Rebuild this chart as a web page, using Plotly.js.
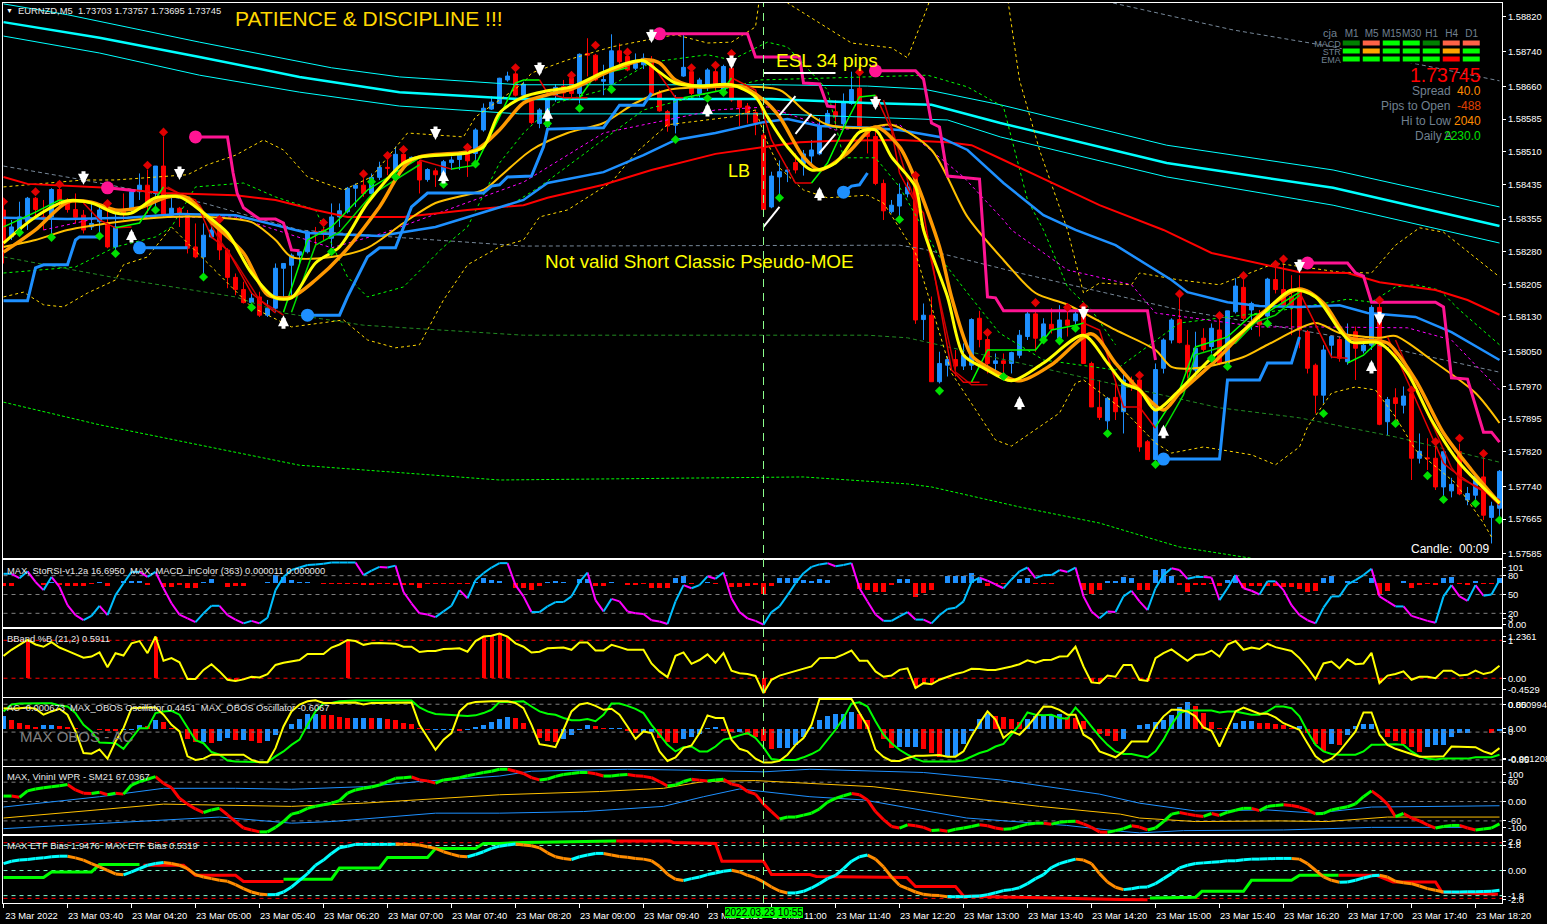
<!DOCTYPE html>
<html><head><meta charset="utf-8">
<script src="https://cdn.plot.ly/plotly-3.0.1.min.js"></script>
<style>html,body{margin:0;padding:0;background:#000;overflow:hidden}#g{width:1547px;height:924px}</style>
</head><body><div id="g"></div>
<script>
// ---------- DATA: price values are points above 1.57000 ----------
const opens=[1376,1314,1330,1349,1403,1360,1360,1423,1399,1377,1364,1337,1349,1347,1291,1376,1376,1418,1433,1414,1477,1364,1380,1368,1291,1268,1314,1337,1284,1221,1193,1163,1176,1134,1150,1242,1249,1272,1280,1326,1330,1311,1360,1372,1426,1433,1414,1451,1474,1464,1504,1492,1487,1446,1466,1460,1485,1492,1510,1506,1560,1608,1621,1675,1689,1640,1627,1575,1568,1640,1660,1679,1644,1736,1732,1672,1667,1742,1729,1702,1710,1721,1644,1602,1571,1684,1694,1644,1660,1694,1652,1702,1629,1615,1600,1548,1383,1452,1464,1485,1483,1500,1505,1575,1602,1574,1621,1656,1560,1545,1437,1372,1385,1413,1454,1124,1134,981,1019,1032,1017,1019,1127,1078,1023,1029,1023,1042,1085,1137,1075,1113,1081,1123,1121,1146,1023,922,891,945,912,985,985,843,802,1012,1077,1124,1065,1008,1081,1062,1100,1023,1142,1198,1146,1120,1132,1216,1193,1177,1196,1096,1019,950,1065,1078,1027,1096,1052,1065,1152,889,944,927,954,805,806,805,739,730,820,709,720,762,669,690];
const highs=[1399,1353,1395,1406,1406,1399,1426,1429,1403,1414,1376,1391,1383,1391,1368,1414,1422,1460,1468,1477,1545,1406,1383,1376,1345,1345,1349,1345,1288,1230,1211,1184,1188,1169,1253,1253,1276,1280,1329,1337,1337,1391,1391,1429,1437,1449,1460,1487,1491,1522,1506,1499,1491,1472,1472,1491,1499,1510,1522,1564,1621,1637,1680,1694,1694,1671,1629,1610,1632,1665,1675,1690,1736,1771,1735,1710,1780,1759,1735,1736,1736,1730,1652,1606,1640,1778,1700,1680,1702,1705,1710,1729,1632,1622,1606,1580,1464,1490,1475,1506,1514,1537,1587,1606,1629,1644,1694,1683,1565,1564,1446,1399,1437,1441,1460,1161,1177,1050,1039,1054,1069,1127,1144,1085,1046,1046,1050,1100,1142,1146,1127,1150,1157,1146,1146,1155,1027,985,946,977,1000,993,993,847,1023,1081,1127,1177,1100,1096,1104,1115,1131,1144,1219,1215,1165,1146,1220,1246,1253,1226,1226,1100,1023,1065,1085,1085,1115,1108,1081,1157,1173,946,966,970,962,862,851,847,824,760,839,739,770,808,705,778];
const lows=[1253,1307,1322,1330,1357,1330,1322,1383,1370,1345,1322,1330,1307,1288,1276,1353,1368,1399,1368,1368,1360,1360,1337,1276,1265,1230,1311,1261,1196,1180,1161,1146,1130,1130,1142,1173,1176,1253,1276,1291,1307,1291,1337,1368,1383,1406,1406,1445,1456,1456,1475,1485,1414,1441,1429,1437,1468,1468,1452,1475,1556,1606,1620,1671,1637,1636,1573,1564,1560,1625,1629,1635,1621,1683,1672,1640,1665,1712,1695,1698,1700,1637,1602,1556,1552,1682,1640,1635,1650,1650,1648,1625,1569,1575,1548,1375,1380,1403,1440,1460,1455,1480,1502,1568,1568,1568,1618,1560,1506,1433,1353,1368,1360,1405,1114,1077,981,977,993,993,1008,1008,1060,1000,1004,993,1000,1035,1077,1050,1069,1092,1073,1085,1104,1023,923,893,862,893,862,960,820,801,793,1000,1069,1069,989,985,1050,1046,1019,1019,1138,1123,1100,1085,1108,1184,1165,1088,1058,1000,908,931,1035,1027,1020,985,1046,1054,881,858,893,908,755,793,778,732,716,715,720,697,707,663,609,663];
const closes=[1307,1337,1360,1403,1377,1355,1423,1399,1377,1359,1330,1345,1376,1291,1337,1368,1418,1433,1391,1477,1364,1380,1368,1288,1268,1318,1330,1284,1221,1193,1163,1173,1134,1150,1242,1253,1272,1280,1326,1321,1322,1360,1374,1426,1433,1414,1451,1474,1472,1504,1483,1497,1445,1469,1457,1487,1491,1502,1489,1560,1610,1624,1679,1684,1640,1665,1577,1606,1629,1658,1645,1644,1734,1732,1675,1676,1742,1717,1698,1713,1725,1644,1604,1569,1629,1704,1644,1675,1698,1660,1706,1629,1612,1597,1577,1377,1454,1464,1468,1468,1505,1514,1568,1598,1591,1625,1653,1569,1545,1437,1374,1387,1412,1429,1123,1134,981,1023,1032,1017,1042,1124,1078,1023,1029,1023,1048,1088,1137,1081,1114,1102,1123,1111,1137,1023,923,899,943,912,985,973,831,802,1009,1077,1123,1071,1004,1058,1055,1104,1023,1144,1201,1127,1161,1112,1217,1193,1157,1157,1100,1012,950,1054,1085,1035,1085,1058,1065,1152,883,940,931,948,805,821,804,739,820,745,723,724,764,674,695,775];

const redDiamondBars=[0,4,7,13,18,20,27,40,45,48,50,58,64,71,74,78,86,89,91,107,114,123,129,133,135,142,147,152,155,159,160,172,176,179,182,185];
const redDiamondVals=[1395,1418,1435,1391,1479,1555,1354,1347,1459,1501,1515,1520,1703,1686,1755,1739,1703,1709,1736,1693,1456,1094,1163,1152,1154,996,1183,1133,1225,1251,1263,1169,962,843,851,816];
const greenDiamondBars=[2,6,12,14,19,25,31,41,46,49,55,59,68,72,76,84,88,90,97,112,117,125,130,132,134,138,144,151,153,158,165,174,178,180,184,187];
const greenDiamondVals=[1324,1313,1316,1276,1376,1222,1152,1280,1441,1452,1435,1482,1575,1610,1653,1538,1633,1646,1404,1354,960,993,1077,1075,1104,862,791,1035,1016,1115,908,885,765,710,701,663];

const upArrowBars=[16,35,55,68,88,102,127,145,171];
const upArrowVals=[1332,1134,1468,1611,1622,1429,948,882,1031];
const downArrowBars=[10,22,54,67,81,91,109,135,162,172];
const downArrowVals=[1434,1445,1537,1684,1760,1700,1606,1123,1231,1111];

const cyanTopBars=[0,8,24.5,41,49.5,64.5,96,108,115,124.6,145.4,166.2,187];
const cyanTopVals=[1850,1825,1762,1703,1682,1664,1664,1661,1654,1618,1525,1468,1383];
const cyanMidBars=[0,12,24.5,37,49.5,64.5,96,108,116,124.6,145.4,166.2,187];
const cyanMidVals=[1808,1772,1728,1682,1647,1631,1631,1622,1618,1576,1484,1427,1339];
const cyanLowBars=[0,12,24.5,37,49.5,64.5,96,108,118,124.6,145.4,166.2,187];
const cyanLowVals=[1776,1737,1686,1647,1615,1597,1597,1590,1583,1544,1452,1387,1300];

const greyBars=[0,10,25,37,50,65,112,115,127,147,167,187];
const greyVals=[1477,1445,1392,1330,1312,1293,1295,1286,1231,1146,1084,1003];
const greyUpperBars=[138.7,153.7,166.2,187];
const greyUpperVals=[1852,1790,1751,1673];
const darkGreenBars=[0,14,29,35,45,54,65,108,113,127,142,152,162,174,187];
const darkGreenVals=[1268,1220,1176,1139,1111,1100,1088,1088,1082,1024,962,921,898,854,796];
const lowGreenBars=[0,12,37,62,100,113,116,127,137,147,156];
const lowGreenVals=[934,882,789,755,762,746,739,693,656,601,575];

const blueMaBars=[0,8,15.5,22,29,35.5,38,47,54,65,68,75,80,84,89,95,98,102,108,112,117,120.5,125,130,134,139,143,146,148,153,157,162,167,170.5,176.5,181,187];
const blueMaVals=[1358,1355,1358,1367,1364,1335,1323,1316,1337,1399,1438,1463,1502,1537,1553,1578,1585,1569,1565,1560,1544,1514,1438,1364,1330,1295,1250,1215,1187,1164,1155,1153,1157,1139,1130,1095,1031];
const redMaBars=[0,3,13,20,29,34,39,43,50,58,65,68,75,81,89,95.5,99.5,104,112,118,121,125,137,145,151,162,168,172,179,183,187];
const redMaVals=[1452,1436,1427,1415,1410,1399,1376,1360,1360,1376,1387,1404,1434,1468,1505,1521,1532,1535,1537,1532,1525,1491,1387,1330,1277,1233,1231,1210,1192,1169,1135];
const goldMaBars=[0,4,8,14,20.5,25.5,31,34,36,41,45.5,50,54,60,62,66,70.5,75,79,83,89,97,100,103,108,111,116,120.5,125,129,133,139,144,146,149.5,155,158,164,167,172,174,178.5,184,187];
const goldMaVals=[1291,1307,1330,1348,1360,1360,1348,1307,1268,1268,1289,1346,1392,1422,1452,1514,1553,1576,1622,1652,1659,1652,1606,1572,1565,1572,1514,1360,1261,1185,1158,1100,1054,1015,1013,1038,1066,1116,1093,1082,1086,1031,955,886];
const magentaBars=[5,12,29,41,47.5,65,75,89,95.5,104,112,120,125,126,133,141,144,157,164,175.5,181,187];
const magentaVals=[1330,1358,1360,1289,1323,1440,1553,1606,1613,1560,1572,1452,1353,1330,1238,1204,1139,1107,1107,1105,1077,962];

const bandUpperBars=[0,10,14,23,25.5,29,32.5,35,38,42.5,46,50.5,57.5,59,65,66,70.5,76,81,84,88,91,94,95,98,106,111,113,115.5,117,125,127,129.5,133,135,137,141,142,147,152,159,167,171,174,177,180,187];
const bandUpperVals=[1429,1445,1445,1457,1480,1502,1537,1514,1452,1422,1452,1553,1544,1590,1668,1691,1721,1751,1769,1779,1760,1762,1797,1928,1852,1760,1749,1726,1843,1928,1928,1675,1514,1330,1185,1208,1204,1231,1215,1204,1254,1233,1231,1295,1335,1325,1222];
const bandLowerBars=[0,2.5,5,7.5,10.5,14,15,18,21,26,31,36,42.5,45.5,49,52,55,58,62,65,67,70.5,76,79,83,91,94,95.5,97,100,103,108,110,114,117,118.5,124,126,132,134,135,140,144,146,150,156,159,162,163,166,169,171.5,174,176.5,181.5,185,186];
const bandLowerVals=[1176,1187,1158,1153,1185,1215,1250,1268,1337,1245,1153,1107,1123,1077,1059,1066,1169,1250,1291,1307,1360,1376,1440,1507,1572,1590,1606,1530,1473,1422,1404,1410,1392,1277,1093,1001,847,833,909,978,985,916,840,817,831,813,790,831,877,955,969,962,900,824,748,656,624];
const midBandBars=[0,9,14,19,21,24,30,34,39,43,45.5,50,55,58,62,65,69,75,81,88,91,95.5,98,103,105,109,112,117,120.5,124.5,130,139,147,152,160,166,168,171,174,176.5,179.5,182,187];
const midBandVals=[1231,1245,1291,1314,1337,1429,1438,1406,1376,1222,1176,1199,1291,1337,1484,1553,1622,1652,1716,1733,1721,1762,1751,1652,1496,1496,1429,1268,1185,1093,1031,1008,1116,1128,1146,1164,1171,1164,1199,1204,1192,1146,1066];
const midBand2Bars=[63,67,80,87,94.5,115.5,120.5,125,128,130,133,136,139];
const midBand2Vals=[1383,1429,1606,1640,1675,1686,1659,1613,1399,1330,1199,1146,1066];

const yellowBars=[0,4,8,11,14,16,19,22,25,28,31,34,36,39,42,45.5,50,52,58,60,62,65,68,71,75,78,80,82,84,87,91,94,95.5,98,101,104,107,109,111,114,115,118,120,122.5,126,130,135,138,140,142,144,147,151,157,161,164,167,168.5,172,175.5,178.5,182,187];
const yellowVals=[1300,1360,1397,1392,1369,1369,1404,1406,1369,1323,1231,1174,1174,1254,1291,1392,1484,1498,1507,1521,1599,1636,1650,1659,1693,1714,1719,1693,1668,1661,1664,1636,1590,1521,1468,1484,1555,1560,1498,1429,1330,1176,1042,1013,983,1024,1088,1024,978,962,916,962,1036,1130,1192,1176,1100,1072,1070,1001,893,794,702];
const orangeBars=[0,4,8,11,14,17,20.5,23,26,30,33,36,39,42.5,47,51,59,62,65,68,71,75.5,80,82,84,87,92,95,97,100,102,105.5,109,112,114,117,118.5,121,123,127,131,136,139,142,145,147,152,157,162,165,168,170,173,176.5,180,183.5,187];
const orangeVals=[1279,1330,1394,1394,1376,1381,1406,1404,1348,1277,1181,1176,1215,1277,1383,1491,1514,1560,1622,1641,1654,1693,1721,1714,1675,1659,1661,1629,1590,1498,1468,1507,1567,1521,1445,1291,1176,1042,1015,983,1020,1091,1024,962,916,955,1038,1134,1194,1162,1084,1077,1070,985,863,778,702];

const fastGreenBars=[0,4,7,10,null,14,17,20,null,35,38,41,45.5,52,null,56,59,62,64,65,67,null,72,74,78,null,85,90,91,null,101,103,105.5,107,109,null,121,123,129,131,134,135,null,144,147,149,153,156,158,162,null,168,170,172];
const fastGreenVals=[1337,1371,1399,1394,null,1335,1346,1429,null,1141,1307,1337,1422,1496,null,1470,1479,1590,1668,1675,1675,null,1634,1686,1703,null,1634,1652,1680,null,1438,1484,1583,1636,1640,null,980,1054,1054,1100,1111,1116,null,877,962,1061,1084,1134,1141,1187,null,1024,1042,1077];
const fastRedBars=[10,12,14,16,null,20,24,26,28,31,34,null,52,56,null,67,68,70,73,null,81,84,85,null,91,94,96,99,101,null,109,111,112,114,115,118.5,120,122,null,135,137,140,142,144,null,162,165,166,168,null,173,176,180,181,184,187];
const fastRedVals=[1392,1353,1335,1337,null,1429,1399,1314,1284,1185,1139,null,1491,1470,null,1675,1645,1634,1634,null,1714,1634,1634,null,1680,1652,1537,1438,1438,null,1640,1560,1461,1392,1369,1008,980,980,null,1116,1100,923,923,874,null,1187,1077,1038,1035,null,1084,962,794,778,739,709];
const slowGreenBars=[36,39,42,46,52,null,145,147.5,149,154,156.5,159,162];
const slowGreenVals=[1141,1295,1325,1411,1480,null,870,951,1043,1070,1118,1134,1180];
const slowRedBars=[20.5,24.5,27,29,32,35,null,110,111.5,113,115,119,121,123,null,174,177,181,182,185,187];
const slowRedVals=[1429,1388,1307,1256,1169,1134,null,1629,1537,1445,1341,1003,974,974,null,1077,951,783,760,732,697];

const stepBlueBars=[0,3,4,5,8,9,9.5,12,null,17,23,null,38,42,43,45.5,47,49,51,53,60,61,62,63,66,67.5,68,75,77,80,81,null,105,106,107,108,null,145,152,153,157,158,161,162];
const stepBlueVals=[1167,1167,1243,1250,1250,1307,1314,1314,null,1289,1289,null,1134,1134,1176,1268,1289,1289,1383,1415,1415,1431,1434,1452,1454,1521,1562,1565,1617,1617,1645,null,1417,1431,1434,1461,null,803,803,985,985,1024,1024,1084];
const stepPinkBars=[13,16.5,null,24,28,28.7,29.2,30,32,34,35,36,37,null,82,93,94,99.5,100,102,103,104,null,109,114,115,116,117,118,122,123,124,125,143,144,null,163,168,169,170,171,179,180,181,183,185,186,187];
const stepPinkVals=[1427,1420,null,1544,1544,1461,1415,1381,1355,1355,1346,1284,1282,null,1781,1781,1728,1728,1668,1666,1615,1613,null,1696,1696,1677,1576,1567,1454,1447,1176,1174,1144,1144,1031,null,1254,1254,1231,1224,1164,1164,1153,990,987,865,865,842];
const pinkDotBars=[13,24,82,109,163];
const pinkDotVals=[1427,1544,1781,1696,1254];
const blueDotBars=[17,38,105,145];
const blueDotVals=[1289,1134,1417,803];
const whiteLineBars=[95,97,null,97,99,null,99,101,null,102,104,null,95,104];
const whiteLineVals=[1337,1383,null,1594,1638,null,1551,1597,null,1507,1551,null,1691,1691];

const priceTicks=[1.58820,1.58740,1.58660,1.58585,1.58510,1.58435,1.58355,1.58280,1.58205,1.58130,1.58050,1.57970,1.57895,1.57820,1.57740,1.57665,1.57585];

const timeTickBars=[0,8,16,24,32,40,48,56,64,72,80,88,96,104,112,120,128,136,144,152,160,168,176,184];
const timeTickLabels=['23 Mar 2022','23 Mar 03:40','23 Mar 04:20','23 Mar 05:00','23 Mar 05:40','23 Mar 06:20','23 Mar 07:00','23 Mar 07:40','23 Mar 08:20','23 Mar 09:00','23 Mar 09:40','23 Mar 10:20','23 Mar 11:00','23 Mar 11:40','23 Mar 12:20','23 Mar 13:00','23 Mar 13:40','23 Mar 14:20','23 Mar 15:00','23 Mar 15:40','23 Mar 16:20','23 Mar 17:00','23 Mar 17:40','23 Mar 18:20'];

const stoRsi=[83,83,76,87,70,57,78,62,33,17,9,16,32,17,49,68,86,86,78,86,60,36,18,12,6,20,32,32,17,10,4,8,4,13,57,78,89,93,97,98,99,101,101,101,101,81,88,94,93,96,54,36,20,18,14,23,32,57,44,73,84,93,100,100,65,47,22,22,31,38,38,47,70,85,41,23,43,39,23,20,19,9,7,3,39,65,60,65,79,75,85,44,22,12,8,2,22,31,49,68,84,94,98,100,95,97,100,60,39,18,8,8,15,22,10,10,4,17,27,29,39,70,77,72,66,60,74,87,93,76,81,81,89,86,93,47,23,12,23,22,47,56,39,25,60,81,92,89,75,78,78,77,41,60,81,60,56,50,71,71,57,33,17,9,4,29,47,47,66,73,81,91,47,39,31,31,16,12,8,5,47,65,47,40,65,48,50,73];
const macdHist=[-27,-27,3,3,3,-15,10,-20,-25,-25,-25,-5,10,-30,5,25,25,25,-20,5,-40,-40,-15,-50,-50,15,40,5,-40,-30,-25,5,5,15,80,60,30,10,15,5,-10,-5,-5,-5,-5,-20,-20,-5,-10,-20,-20,-15,-45,-5,-3,-5,-5,-5,-5,15,50,35,25,3,-50,-50,-65,-25,15,20,10,3,40,40,-30,-30,10,5,-20,-15,-10,-45,-50,-45,50,70,-3,3,10,-10,5,-35,-35,-30,-20,-105,-25,50,50,50,35,25,45,35,3,3,3,-55,-65,-85,-85,-15,40,45,-135,-100,-70,3,75,70,70,100,45,-25,-5,-5,3,40,50,-10,-10,-5,3,3,3,-65,-110,-65,20,20,60,55,-70,-70,135,140,75,-15,-90,-20,-15,-10,-30,30,70,-45,-30,-25,-30,-30,-35,-35,-55,-85,-80,50,75,5,25,10,3,50,-115,-75,5,25,-45,-20,-5,-15,50,60,-10,-15,25,-10,-5,55];
const bbPct=[.59,.75,.88,1.01,.89,.83,.95,.81,.72,.64,.54,.57,.68,.29,.66,.60,.92,.98,.66,1.10,.46,.53,.42,-.02,-.02,.22,.37,.18,-.04,-.07,-.03,.04,.02,.11,.35,.41,.44,.48,.64,.64,.64,.81,.89,1.01,.98,.88,.92,.93,.92,.91,.83,.83,.69,.72,.72,.77,.78,.79,.70,.98,1.10,1.12,1.18,1.10,.92,.83,.68,.70,.79,.81,.81,.75,.94,.94,.73,.73,.88,.82,.75,.75,.75,.39,.18,.03,.59,.68,.38,.48,.63,.41,.66,.20,.13,.11,.06,-.39,-.04,.07,.13,.18,.25,.31,.53,.54,.54,.63,.73,.46,.46,.18,.04,.07,.22,.26,-.26,-.13,-.16,-.04,.04,.11,.16,.25,.24,.22,.22,.26,.31,.37,.47,.41,.48,.49,.57,.58,.83,.31,-.11,-.13,.07,.04,.35,.35,-.04,-.07,.53,.66,.76,.61,.46,.61,.63,.73,.57,.89,.98,.75,.81,.77,.91,.82,.77,.72,.53,.28,-.02,.39,.44,.26,.50,.37,.39,.67,-.13,.07,.11,.18,-.04,.04,.04,0,.20,.20,.07,.09,.20,.11,.16,.33];
const acHist=[56,38,26,15,8,18,18,12,8,3,-3,-3,-5,-8,-12,-5,-5,15,11,38,30,5,-3,-45,-60,-60,-63,-53,-42,-50,-50,-57,-63,-53,-30,1,23,45,68,68,63,60,53,48,48,50,48,48,42,38,27,20,5,-5,-5,-5,-5,-8,-5,8,18,30,45,53,48,26,-3,-42,-57,-60,-45,-27,-5,18,12,2,2,2,-12,-18,-15,-15,-42,-60,-63,-45,-38,-23,3,6,-12,-15,-15,-27,-38,-57,-90,-87,-87,-72,-38,6,38,57,68,68,75,68,38,-2,-45,-87,-83,-83,-83,-90,-108,-128,-128,-123,-69,-12,45,68,57,53,42,30,45,56,57,57,68,53,48,36,-3,-23,-33,-53,-45,1,18,23,30,38,60,98,120,102,72,30,5,3,27,36,36,27,24,21,15,3,12,-18,-68,-98,-68,-72,-30,12,23,23,-3,-38,-57,-68,-83,-105,-83,-72,-71,-39,-18,-18,-3,-3,-18,-12];
const obosYellow=[.73,.71,.73,.75,.71,.53,.63,.71,.53,.02,-.64,-.66,-.53,-.81,-.29,.12,.73,.75,.75,.75,.53,.22,.02,-.74,-.85,-.81,-.69,-.69,-.69,-.69,-.69,-.85,-.92,-.92,-.49,.17,.63,.84,.94,.97,.89,.89,.90,.90,.90,.84,.89,.89,.89,.90,.90,.90,.22,-.18,-.54,-.23,-.03,.63,.86,.92,.94,.94,.94,.94,.89,.73,.22,-.37,-.41,-.46,.07,.63,.84,.89,.80,.68,.71,.53,.17,-.21,.02,-.03,-.59,-.88,-.77,-.49,-.41,-.03,.51,.43,.43,-.23,-.51,-.59,-.81,-.93,-.93,-.88,-.69,-.39,-.18,.22,1.01,1.01,1.01,1.01,1.01,.58,.17,-.54,-.76,-.88,-.88,-.79,-.72,-.72,-.70,-.70,-.75,-.75,-.59,-.13,.27,.63,.38,-.18,.02,-.08,.17,.48,.78,.77,.68,.53,.53,-.08,-.23,-.59,-.69,-.77,-.59,-.29,-.29,-.29,.17,.48,.68,.68,.63,.48,.14,.04,-.44,.07,.63,.75,.65,.56,.56,.45,.27,.17,.07,-.34,-.74,-.92,-.81,-.59,-.29,.02,.60,.60,-.08,-.39,-.51,-.59,-.67,-.75,-.75,-.75,-.74,-.44,-.44,-.44,-.46,-.59,-.67,-.49];
const obosGreen=[.63,.84,.87,.88,.88,.88,.88,.81,.78,.58,.22,.02,-.32,-.32,-.34,-.51,-.18,.12,.12,.58,.63,.65,.53,.12,-.25,-.34,-.61,-.69,-.87,-.90,-.90,-.90,-.92,-.92,-.74,-.59,-.39,-.23,.22,.63,.88,.89,.94,.96,.96,.96,.96,.96,.96,.96,.96,.96,.75,.63,.55,.53,.53,.51,.49,.51,.58,.68,.92,.92,.94,.94,.78,.63,.56,.53,.43,.36,.36,.40,.33,.53,.87,.87,.80,.71,.58,.22,-.08,-.39,-.59,-.46,-.44,-.59,-.59,-.44,-.23,-.18,-.10,-.03,-.18,-.47,-.82,-.85,-.85,-.85,-.77,-.67,-.54,-.23,.07,.43,.87,.91,.78,.33,-.08,-.34,-.54,-.69,-.81,-.90,-.90,-.90,-.90,-.90,-.86,-.74,-.64,-.57,-.44,-.36,-.08,.22,.60,.53,.51,.53,.43,.41,.75,.48,.17,-.13,-.39,-.59,-.67,-.67,-.72,-.77,-.59,-.23,.22,.58,.66,.66,.66,.66,.60,.63,.63,.57,.53,.53,.63,.78,.78,.73,.48,.02,-.39,-.59,-.67,-.69,-.69,-.69,-.59,-.39,-.39,-.37,-.37,-.39,-.59,-.74,-.81,-.84,-.81,-.81,-.81,-.81,-.77,-.77,-.77,-.69];
const wprMain=[17,17,13,33,39,43,46,49,53,36,26,25,29,21,26,23,51,62,69,77,56,43,10,-8,-23,-34,-26,-21,-41,-62,-82,-88,-94,-94,-80,-62,-39,-33,-21,-15,-10,-5,3,26,36,41,45,51,62,72,74,76,67,64,57,67,70,74,80,85,90,94,100,100,94,87,74,67,70,78,84,87,90,90,86,79,79,82,84,80,78,74,62,48,51,62,69,66,64,67,69,54,49,31,23,-8,-31,-54,-48,-48,-42,-36,-23,-2,10,18,25,21,5,-31,-56,-77,-82,-72,-75,-80,-90,-88,-92,-86,-82,-77,-72,-75,-82,-86,-84,-77,-70,-67,-67,-70,-64,-62,-61,-69,-80,-94,-95,-90,-84,-75,-79,-88,-82,-62,-39,-34,-39,-43,-46,-37,-43,-33,-27,-21,-21,-28,-15,-12,-10,-12,-17,-26,-38,-37,-26,-21,-16,-7,15,33,15,-8,-47,-37,-51,-60,-72,-82,-77,-74,-74,-82,-88,-85,-82,-69];
const wprBlueUpBars=[0,12,20,29,36,45,52,62,66,78,86,95,100.8,115,124.6,137,142,149,158,164,171,187];
const wprBlueUpVals=[-17,15,41,41,38,46,62,79,94,100,97,92,100,90,67,23,-5,-29,-26,-36,-17,-13];
const wprGoldBars=[0,20,36,45,62,74.5,82.5,87.5,94,100.8,108.7,122.5,129.5,139.6,142,149,159.5,165.4,170.4,173,187];
const wprGoldVals=[-51,-8,-15,-5,21,31,41,62,65,56,46,5,-15,-39,-51,-62,-60,-62,-53,-48,-48];
const wprBlueLowBars=[0,16,27,36,41,54,62,72.5,82.5,87.5,92,100.8,107.5,120.4,132.9,139.6,142,147.5,160,171,183];
const wprBlueLowVals=[-84,-62,-48,-67,-62,-36,-36,-31,-15,15,39,15,5,-51,-74,-92,-97,-90,-88,-80,-80];
const etfBias=[.50,.67,.75,.79,.87,.91,.99,1.03,1.03,.91,.75,.50,.26,.02,-.24,-.31,-.10,.14,.38,.50,.58,.50,.38,.14,-.29,-.46,-.58,-.70,-.77,-1.01,-1.30,-1.54,-1.68,-1.73,-1.73,-1.54,-1.18,-.70,-.22,.38,.75,1.23,1.63,1.75,1.88,1.88,1.88,1.88,1.88,1.89,1.88,1.87,1.83,1.71,1.59,1.35,1.18,1.03,.99,1.15,1.35,1.59,1.75,1.83,1.90,1.83,1.78,1.63,1.27,.99,.87,.79,.99,1.11,1.23,1.23,1.11,1.01,.96,.87,.82,.70,.31,-.26,-.62,-.72,-.58,-.46,-.29,-.17,-.05,.02,-.10,-.34,-.53,-.82,-1.18,-1.47,-1.61,-1.61,-1.49,-1.25,-.94,-.58,-.34,.14,.67,.99,1.11,.82,.26,-.46,-1.06,-1.30,-1.54,-1.71,-1.78,-1.80,-1.88,-1.88,-1.88,-1.85,-1.83,-1.73,-1.59,-1.44,-1.37,-1.23,-.94,-.58,-.29,.22,.50,.67,.82,.75,.50,-.22,-.82,-1.20,-1.37,-1.30,-1.20,-1.18,-.94,-.58,-.22,.19,.38,.50,.55,.60,.63,.70,.70,.77,.82,.82,.84,.87,.87,.87,.82,.50,.02,-.46,-.70,-.84,-.82,-.70,-.53,-.38,-.34,-.46,-.77,-.87,-.94,-1.11,-1.30,-1.42,-1.54,-1.54,-1.54,-1.53,-1.52,-1.51,-1.49,-1.42];
const etfGreenBars=[0,5,6,11,12,17,null,35,41,42,47,48,53,54,59,60,62,65,76.6,null,143.3,149,149.8,155,156,161,162,166.9];
const etfGreenVals=[-.50,-.50,-.10,-.10,.43,.43,null,-.62,-.62,.19,.19,.94,.94,1.59,1.59,1.95,1.95,2.02,2.12,null,-1.97,-1.92,-1.49,-1.49,-.70,-.70,-.34,-.34];
const etfRedBars=[17.5,20,22.5,24,29,30,35,null,76.6,83.3,83.7,89,89.8,95,96,100.8,101.6,107.5,112.9,114,119,120,124.6,139.6,143,null,166.9,171.6,173.7,179,179.8,186.8];
const etfRedVals=[.38,.38,.38,-.34,-.34,-.79,-.79,null,2.12,2.12,2.02,1.95,.67,.67,-.29,-.29,-.43,-.46,-.50,-1.15,-1.15,-1.83,-1.90,-2.07,-2.09,null,-.34,-.34,-.82,-.82,-1.54,-1.71];

const dashColumns=['M1','M5','M15','M30','H1','H4','D1'];
const dashRows=['MACD','STR','EMA'];
const dashStates=[[0,2,1,1,0,2,2],[1,3,1,1,1,3,1],[1,1,1,1,1,4,1]];

// ---------- page geometry and helpers ----------
const W=1547,H=924;
const BARS=stoRsi.map((_,i)=>i);
const P=a=>a.map(v=>v==null?null:1.57+v*1e-5);
const dom=(t,b)=>[1-b/H,1-t/H];
const xDom=[3/W,1502/W];
const FONT='"Liberation Sans",sans-serif';
const BLUE='#1e90ff',RED='#ff0000';
function line(xa,ya,color,width,dash,xax,yax,price,smooth){
  return {type:'scatter',mode:'lines',x:xa,y:price===false?ya:P(ya),xaxis:xax||'x',yaxis:yax||'y',
    connectgaps:false,hoverinfo:'skip',line:Object.assign({color,width,dash:dash||'solid',shape:smooth?'spline':'linear'},smooth?{smoothing:.8}:{})};
}
function level(v,color,xax,yax){return line([-1,189],[v,v],color,1,'4px,4px',xax,yax,false);}
function slopes(ys,upColor,dnColor,w,xax,yax){
  const ux=[],uy=[],dx=[],dy=[];
  for(let i=0;i+1<ys.length;i++){
    const tx=ys[i+1]>=ys[i]?ux:dx,ty=ys[i+1]>=ys[i]?uy:dy;
    tx.push(i,i+1,null);ty.push(ys[i],ys[i+1],null);
  }
  return [line(dx,dy,dnColor,w,'solid',xax,yax,false),line(ux,uy,upColor,w,'solid',xax,yax,false)];
}
function markers(xa,ya,symbol,size,color){
  return {type:'scatter',mode:'markers',x:xa,y:P(ya),xaxis:'x',yaxis:'y',hoverinfo:'skip',
    marker:{symbol,size,color,line:{width:0}}};
}
function bars(ys,colors,width,xax,yax){
  return {type:'bar',x:BARS,y:ys,width,xaxis:xax,yaxis:yax,hoverinfo:'skip',marker:{color:colors,line:{width:0}}};
}

const traces=[
  line(cyanTopBars,cyanTopVals,'#00ffff',1),
  line(cyanMidBars,cyanMidVals,'#00ffff',2.5),
  line(cyanLowBars,cyanLowVals,'#00ffff',1),
  line(greyBars,greyVals,'#778899',1,'4px,3px'),
  line(greyUpperBars,greyUpperVals,'#778899',1,'4px,3px'),
  line(darkGreenBars,darkGreenVals,'#228b22',1,'4px,3px'),
  line(lowGreenBars,lowGreenVals,'#00ff00',1,'3px,2px'),
  {type:'candlestick',x:BARS,open:P(opens),high:P(highs),low:P(lows),close:P(closes),xaxis:'x',yaxis:'y',hoverinfo:'skip',
    increasing:{line:{color:BLUE,width:1},fillcolor:BLUE},decreasing:{line:{color:RED,width:1},fillcolor:RED},whiskerwidth:0},
  line(bandUpperBars,bandUpperVals,'#ffd700',1,'3px,3px'),
  line(bandLowerBars,bandLowerVals,'#ffd700',1,'3px,3px'),
  line(midBandBars,midBandVals,'#00ff00',1,'3px,3px'),
  line(midBand2Bars,midBand2Vals,'#00ff00',1,'3px,3px'),
  line(magentaBars,magentaVals,'#ff00ff',1,'3px,3px'),
  line(redMaBars,redMaVals,'#ff0000',2),
  line(blueMaBars,blueMaVals,BLUE,2.5),
  line(goldMaBars,goldMaVals,'#ffc000',2,'solid',null,null,undefined,true),
  line(stepBlueBars,stepBlueVals,BLUE,3),
  line(stepPinkBars,stepPinkVals,'#ff1493',3),
  markers(pinkDotBars,pinkDotVals,'circle',13,'#ff1493'),
  markers(blueDotBars,blueDotVals,'circle',13,BLUE),
  line(slowRedBars,slowRedVals,'#c80000',1.5),
  line(fastRedBars,fastRedVals,'#e60000',1.5),
  line(slowGreenBars,slowGreenVals,'#00dd00',1.5),
  line(fastGreenBars,fastGreenVals,'#00ff00',1.5),
  line(orangeBars,orangeVals,'#ff9900',3.5,'solid',null,null,undefined,true),
  line(yellowBars,yellowVals,'#ffff00',3,'solid',null,null,undefined,true),
  line(whiteLineBars,whiteLineVals,'#ffffff',2),
  markers(redDiamondBars,redDiamondVals,'diamond',7,'#e00000'),
  markers(greenDiamondBars,greenDiamondVals,'diamond',7,'#00e000'),
  // StoRSI / MACD
  bars(macdHist,macdHist.map(v=>v>=0?BLUE:RED),.6,'x2','y2'),
  level(80,'#808080','x2','y7'),level(50,'#808080','x2','y7'),level(20,'#808080','x2','y7'),
  ...slopes(stoRsi,'#00bfff','#ff00ff',2,'x2','y7'),
  // BBand %B
  level(1,'#ff0000','x3','y3'),level(0,'#ff0000','x3','y3'),
  bars(bbPct.map(v=>(v>1||v<0)?v:0),RED,.5,'x3','y3'),
  line(BARS,bbPct,'#ffff00',2,'solid','x3','y3',false),
  // AC + OBOS
  bars(acHist,acHist.map((v,i)=>i&&v<acHist[i-1]?RED:BLUE),.6,'x4','y4'),
  level(.85,'#808080','x4','y8'),level(0,'#808080','x4','y8'),level(-.85,'#808080','x4','y8'),
  line(BARS,obosGreen,'#00ff00',2,'solid','x4','y8',false),
  line(BARS,obosYellow,'#ffff00',2,'solid','x4','y8',false),
  // WPR
  level(60,'#808080','x5','y5'),level(0,'#808080','x5','y5'),level(-60,'#808080','x5','y5'),
  line(wprBlueUpBars,wprBlueUpVals,BLUE,1,'solid','x5','y5',false),
  line(wprGoldBars,wprGoldVals,'#ffc000',1,'solid','x5','y5',false),
  line(wprBlueLowBars,wprBlueLowVals,BLUE,1,'solid','x5','y5',false),
  ...slopes(wprMain,'#00ff00','#ff0000',3,'x5','y5'),
  // ETF Bias
  level(2,'#ff0000','x6','y6'),level(-2,'#ff0000','x6','y6'),
  level(1.8,'#7fffd4','x6','y6'),level(0,'#7fffd4','x6','y6'),level(-1.8,'#7fffd4','x6','y6'),
  line(etfGreenBars,etfGreenVals,'#00ff00',3,'solid','x6','y6',false),
  line(etfRedBars,etfRedVals,'#ff0000',3,'solid','x6','y6',false),
  ...slopes(etfBias,'#00ffff','#ff8c00',3,'x6','y6'),
  // dashboard
  {type:'heatmap',x:dashColumns,y:dashRows,z:dashStates,xaxis:'x7',yaxis:'y9',zmin:0,zmax:4,showscale:false,xgap:3,ygap:3,hoverinfo:'skip',
    colorscale:[[0,'#008000'],[.2,'#008000'],[.2,'#00ff00'],[.4,'#00ff00'],[.4,'#ff6347'],[.6,'#ff6347'],[.6,'#ffa500'],[.8,'#ffa500'],[.8,'#ff0000'],[1,'#ff0000']]}
];

function ann(px,py,text,color,size,anchor,extra){
  return Object.assign({xref:'paper',yref:'paper',x:px/W,y:1-py/H,text,showarrow:false,xanchor:anchor||'left',yanchor:'middle',
    font:{family:'"Liberation Sans",sans-serif',size,color},borderpad:0,borderwidth:0},extra||{});
}
const small=(px,py,text)=>ann(px,py,text,'#e8e8e8',9.4);
const SLATE='#708090';
const annotations=[
  small(18,11,'EURNZD,M5&nbsp;&nbsp;1.73703 1.73757 1.73695 1.73745'),
  ann(6,11,'▼','#ffffff',7),
  ann(235,19,'PATIENCE &amp; DISCIPLINE !!!','#ffd700',21),
  ann(776,60,'ESL 34 pips','#ffff00',19),
  ann(728,171,'LB','#ffff00',18),
  ann(545,261,'Not valid Short Classic Pseudo-MOE','#ffff00',18.9),
  ann(1411,549,'Candle:&nbsp;&nbsp;00:09','#ffffff',12),
  ann(1481,75,'1.73745','#ff0000',19.5,'right'),
  ann(1451,91,'Spread',SLATE,12,'right'),ann(1481,91,'40.0','#ff8c00',12,'right'),
  ann(1450,106,'Pips to Open',SLATE,12,'right'),ann(1481,106,'-488','#e04000',12,'right'),
  ann(1451,121,'Hi to Low',SLATE,12,'right'),ann(1481,121,'2040','#ff8c00',12,'right'),
  ann(1452,136,'Daily A',SLATE,12,'right'),ann(1481,136,'2230.0','#00e000',12,'right'),
  ann(1338,33,'cja',SLATE,11,'right'),
  small(7,570,'MAX, StoRSI-v1.2a 16.6950&nbsp;&nbsp;MAX, MACD_inColor (363) 0.000011 0.000000'),
  small(7,638,'BBand %B (21,2) 0.5911'),
  small(7,707,'AC -0.000673&nbsp;&nbsp;MAX_OBOS Oscillator 0.4451&nbsp;&nbsp;MAX_OBOS Oscillator -0.6067'),
  small(7,776,'MAX, VininI WPR - SM21 67.0367'),
  small(7,845,'MAX ETF Bias 1.9476&nbsp;&nbsp;MAX ETF Bias 0.5319'),
  ann(20,736,'MAX OBOS - AC','#808080',15),
  ann(763.5,912,'2022.03.23 10:55','#000000',10,'center',{bgcolor:'#00ff00'})
];
const arrowStyle={text:'',showarrow:true,arrowcolor:'#fff',arrowwidth:4,arrowhead:2,arrowsize:.55,ax:0};
upArrowBars.forEach((b,i)=>annotations.push(Object.assign({xref:'x',yref:'y',x:b,y:P([upArrowVals[i]])[0],ay:15},arrowStyle)));
downArrowBars.forEach((b,i)=>annotations.push(Object.assign({xref:'x',yref:'y',x:b,y:P([downArrowVals[i]])[0],ay:-15},arrowStyle)));

const tickFont={family:FONT,size:9.4,color:'#ffffff'};
function xAxis(n,labels){
  return {domain:xDom,range:[-0.0625,187.3125],anchor:n===1?'y':'y'+n,matches:n===1?undefined:'x',showgrid:false,zeroline:false,
    showline:true,mirror:true,linecolor:'#fff',linewidth:1,fixedrange:true,
    rangeslider:{visible:false},
    tickmode:'array',tickvals:labels?timeTickBars:[],ticktext:labels?timeTickLabels:[],ticks:labels?'outside':'',ticklen:4,tickcolor:'#fff',
    showticklabels:!!labels,tickfont:tickFont,tickangle:0,ticklabelshift:28};
}
function yAxis(d,range,vals,text,anchor){
  return {domain:d,range,anchor,side:'right',showgrid:false,zeroline:false,showline:true,mirror:true,linecolor:'#fff',linewidth:1,fixedrange:true,
    tickmode:'array',tickvals:vals,ticktext:text,ticks:'outside',ticklen:3,tickcolor:'#fff',tickfont:tickFont};
}
function overlay(base,xa,range,vals,text){
  return {overlaying:base,anchor:xa,side:'right',range,showgrid:false,zeroline:false,showline:false,fixedrange:true,
    tickmode:'array',tickvals:vals,ticktext:text,ticks:'outside',ticklen:3,tickcolor:'#fff',tickfont:tickFont};
}

const layout={
  width:W,height:H,autosize:false,margin:{l:0,r:0,t:0,b:0,pad:0},paper_bgcolor:'#000',plot_bgcolor:'#000',showlegend:false,bargap:0,barmode:'overlay',
  xaxis:xAxis(1),xaxis2:xAxis(2),xaxis3:xAxis(3),xaxis4:xAxis(4),xaxis5:xAxis(5),xaxis6:xAxis(6,true),
  yaxis:yAxis(dom(3,558),[1.575756,1.58852],priceTicks,priceTicks.map(v=>v.toFixed(5)),'x'),
  yaxis2:yAxis(dom(560,627),[-437,233],[],[],'x2'),
  yaxis7:overlay('y2','x2',[-1.8,105],[93,80,50,20,12,2.5],['101','80','50','20','3','0.00']),
  yaxis3:yAxis(dom(629,696.5),[-.482,1.298],[1.10,.98,0,-.29],['1.2361','1','0.00','-0.4529'],'x3'),
  yaxis4:yAxis(dom(698,765.5),[-165,138],[110,0,-135],['0.0009943','0.00','-0.001208'],'x4'),
  yaxis8:overlay('y4','x4',[-1.02,1.04],[.85,0,-.85],['0.85','0','-0.85']),
  yaxis5:yAxis(dom(767,834),[-100.5,107],[84,60,0,-58,-80],['100','60','0.00','-60','-100'],'x5'),
  yaxis6:yAxis(dom(836,903),[-2.33,2.48],[2.07,1.83,0,-1.83,-2.07],['2.0','1.8','0.00','-1.8','-2.0'],'x6'),
  xaxis7:{domain:[1341.7/W,1481.7/W],anchor:'y9',side:'top',type:'category',showgrid:false,zeroline:false,showline:false,ticks:'',ticklen:0,fixedrange:true,tickangle:0,
    tickmode:'array',tickvals:dashColumns,ticktext:dashColumns,tickfont:{family:FONT,size:10,color:SLATE}},
  yaxis9:{domain:dom(39.5,63.5),anchor:'x7',type:'category',autorange:'reversed',showgrid:false,zeroline:false,showline:false,ticks:'',ticklen:0,fixedrange:true,
    tickmode:'array',tickvals:dashRows,ticktext:dashRows,tickfont:{family:FONT,size:9,color:SLATE}},
  shapes:[{type:'line',xref:'x',yref:'paper',x0:95,x1:95,y0:1-903/H,y1:1-3/H,layer:'above',line:{color:'#8cff8c',width:1,dash:'8px,6px'}}],
  annotations
};
Plotly.newPlot('g',traces,layout,{staticPlot:true,displayModeBar:false,responsive:false});
</script></body></html>
